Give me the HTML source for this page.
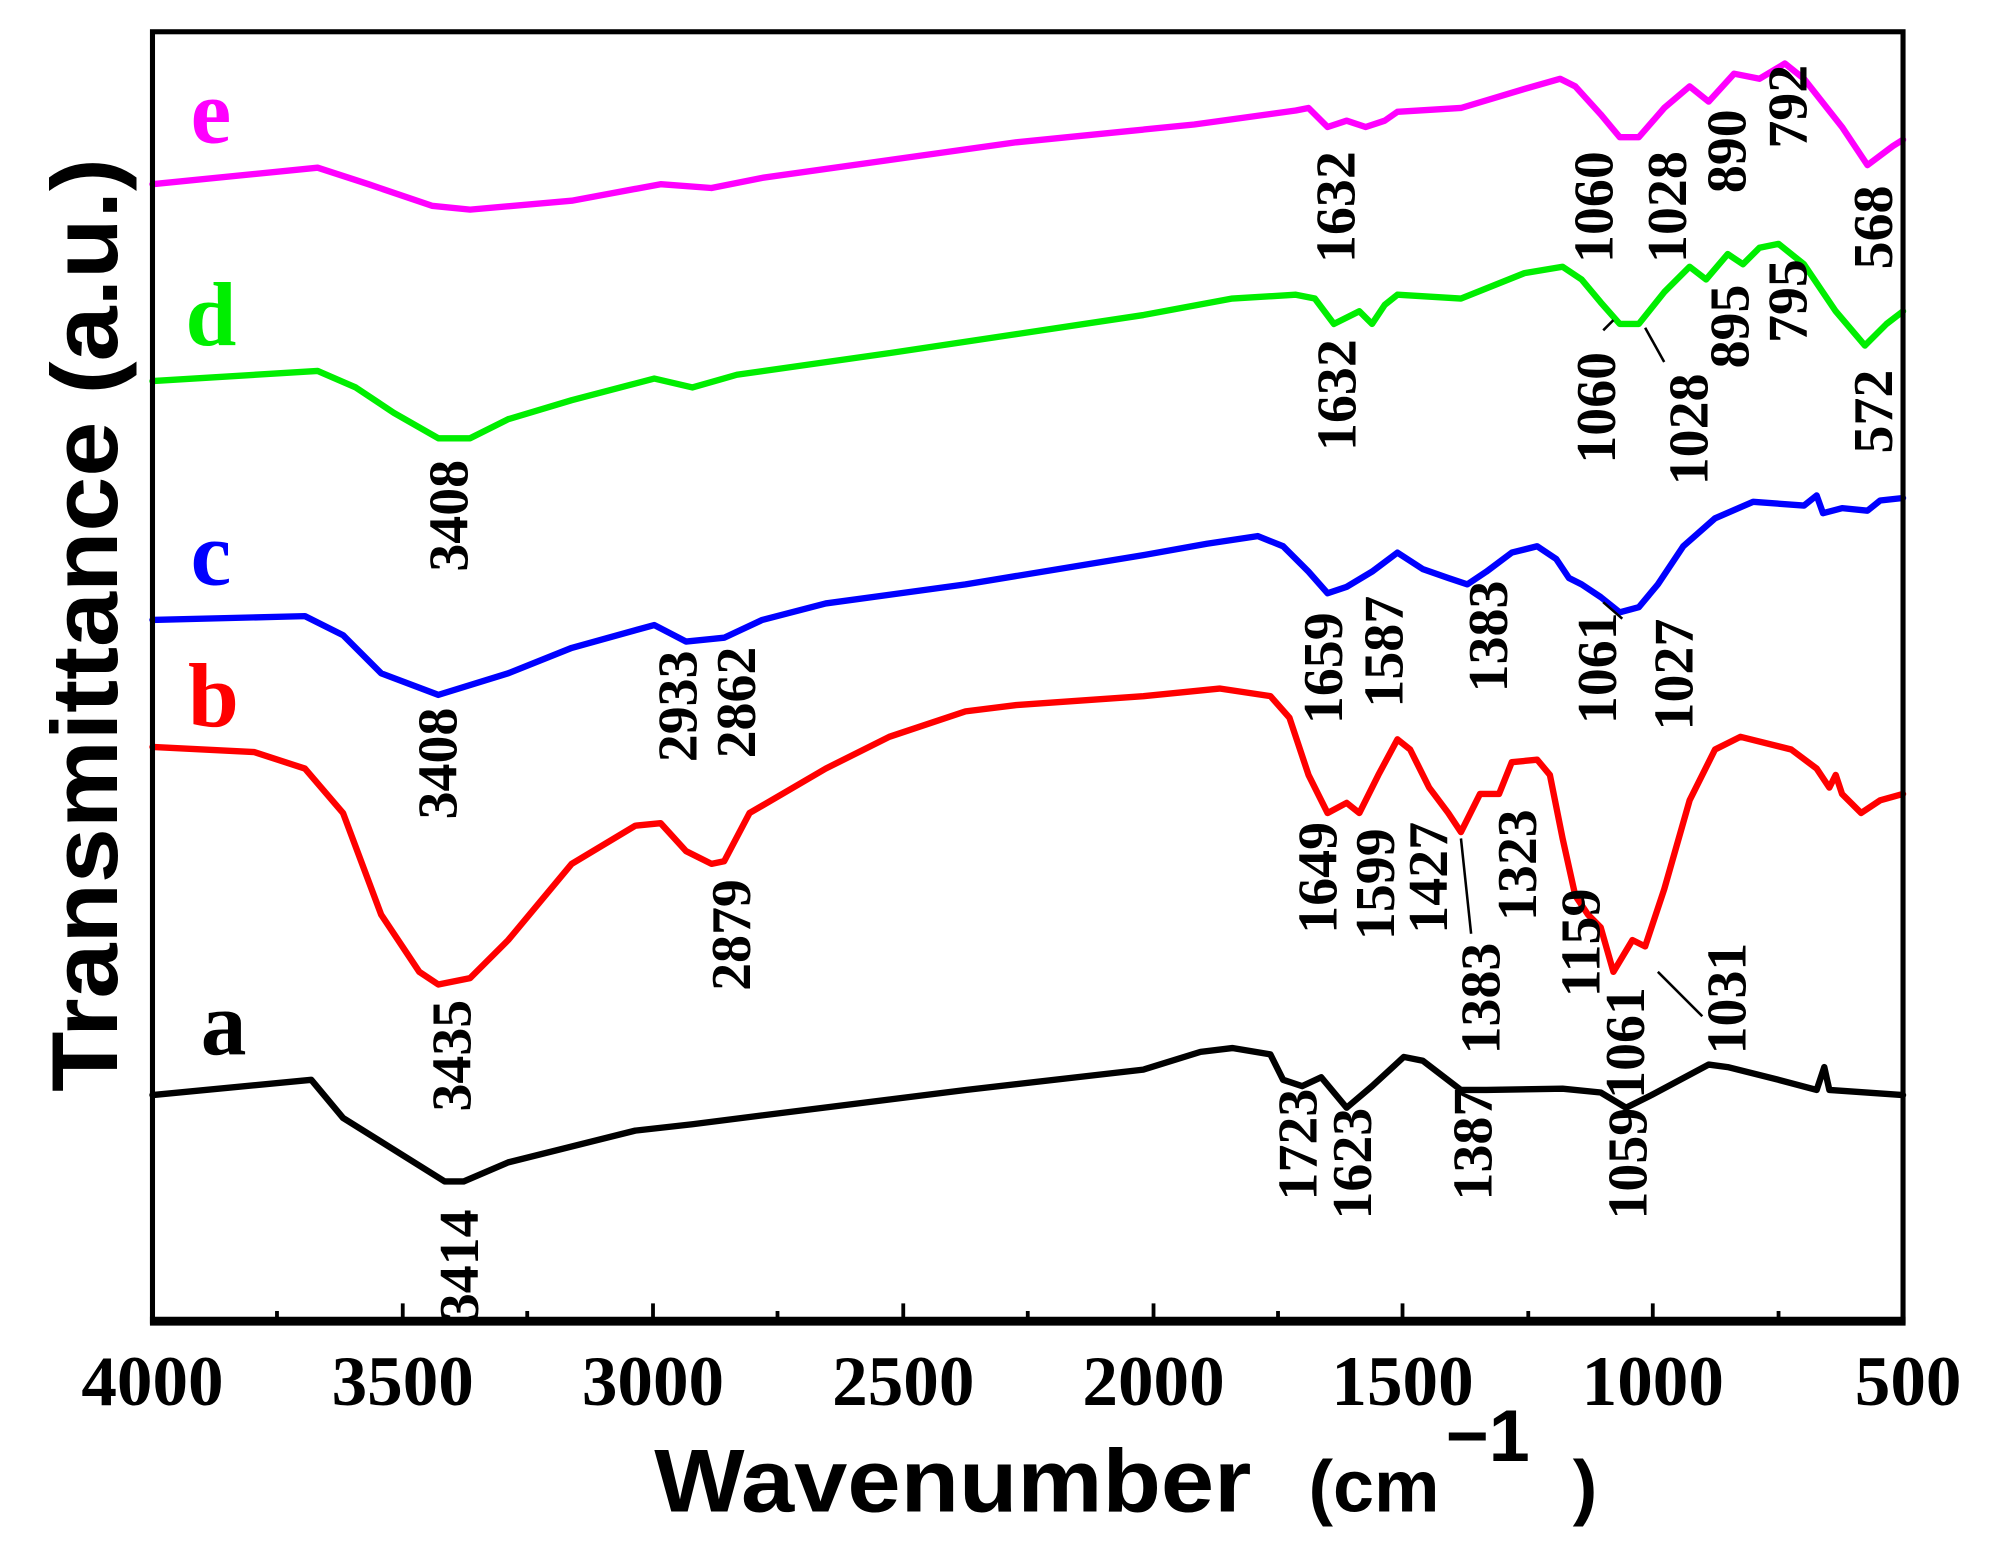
<!DOCTYPE html>
<html><head><meta charset="utf-8"><style>
html,body{margin:0;padding:0;background:#fff;}
svg{display:block;}
.pk{font-family:"Liberation Serif",serif;font-weight:bold;font-size:44px;fill:#000;}
.tk{font-family:"Liberation Serif",serif;font-weight:bold;font-size:56px;fill:#000;}
.lt{font-family:"Liberation Serif",serif;font-weight:bold;font-size:72px;}
.ax{font-family:"Liberation Sans",sans-serif;font-weight:bold;fill:#000;}
</style></head><body>
<svg width="1992" height="1568" viewBox="0 0 1568 1234.3" xmlns="http://www.w3.org/2000/svg">
<g fill="none" stroke-width="5" stroke-linejoin="round" stroke-linecap="round">
<polyline stroke="#ff00ff" points="120,145 250,132 290,145 340,162 370,165 450,158 520,145 560,148 600,140 800,112 940,98 1020,87 1030,85 1045,100 1060,95 1075,100 1090,95 1100,88 1150,85 1200,70 1228,62 1240,68 1260,90 1275,108 1290,108 1310,85 1330,68 1345,80 1365,58 1385,62 1405,50 1420,62 1450,100 1470,130 1490,115 1498,110"/>
<polyline stroke="#00ee00" points="120,300 250,292 280,305 310,325 345,345 370,345 400,330 450,315 515,298 545,305 580,295 700,278 800,263 900,248 970,235 1020,232 1035,235 1050,255 1070,245 1080,255 1090,240 1100,232 1150,235 1200,215 1230,210 1245,220 1260,238 1275,255 1290,255 1310,230 1330,210 1343,220 1360,200 1372,208 1385,195 1400,192 1420,208 1445,245 1468,272 1485,255 1498,245"/>
<polyline stroke="#0000ff" points="120,488 240,485 270,500 300,530 345,547 400,530 450,510 515,492 540,505 570,502 600,488 650,475 760,460 900,437 950,428 990,422 1010,430 1030,450 1045,467 1060,462 1080,450 1100,435 1120,448 1140,455 1155,460 1170,450 1190,435 1210,430 1225,440 1235,455 1245,460 1260,470 1275,482 1290,478 1305,460 1325,430 1350,408 1380,395 1420,398 1430,390 1435,404 1450,400 1470,402 1480,394 1498,392"/>
<polyline stroke="#ff0000" points="120,588 200,592 240,605 270,640 300,720 330,765 345,775 370,770 400,740 450,680 500,650 520,648 540,670 560,680 570,678 590,640 650,605 700,580 760,560 800,555 900,548 960,542 1000,548 1015,565 1030,610 1045,640 1060,632 1070,640 1085,610 1100,582 1110,590 1125,620 1140,640 1150,655 1165,625 1180,625 1190,600 1210,598 1220,610 1230,660 1240,705 1250,720 1260,730 1270,765 1285,740 1295,745 1310,700 1330,630 1350,590 1370,580 1410,590 1430,605 1440,620 1445,610 1450,625 1465,640 1480,630 1498,625"/>
<polyline stroke="#000000" points="120,862 245,850 270,880 350,930 365,930 400,915 500,890 545,885 600,878 760,858 900,842 945,828 970,825 1000,830 1010,850 1025,855 1040,848 1060,872 1080,855 1105,832 1120,835 1150,858 1170,858 1230,857 1260,860 1280,872 1300,862 1345,838 1360,840 1400,850 1430,858 1436,840 1440,858 1498,862"/>
</g>
<g stroke="#000" stroke-width="2">
<line x1="1150" y1="660" x2="1158" y2="735"/><line x1="1305" y1="765" x2="1340" y2="800"/>
<line x1="1262" y1="474" x2="1277" y2="487"/><line x1="1295" y1="258" x2="1310" y2="285"/>
<line x1="1262" y1="260" x2="1270" y2="252"/>
</g>
<rect x="120" y="25" width="1378" height="1015" fill="none" stroke="#000" stroke-width="4"/>
<line x1="118" y1="1040" x2="1500" y2="1040" stroke="#000" stroke-width="7"/>
<g stroke="#000" stroke-width="3">
<line x1="317" y1="1040" x2="317" y2="1026"/><line x1="514" y1="1040" x2="514" y2="1026"/><line x1="711" y1="1040" x2="711" y2="1026"/><line x1="908" y1="1040" x2="908" y2="1026"/><line x1="1104" y1="1040" x2="1104" y2="1026"/><line x1="1301" y1="1040" x2="1301" y2="1026"/>
<line x1="218" y1="1040" x2="218" y2="1032"/><line x1="415" y1="1040" x2="415" y2="1032"/><line x1="612" y1="1040" x2="612" y2="1032"/><line x1="809" y1="1040" x2="809" y2="1032"/><line x1="1006" y1="1040" x2="1006" y2="1032"/><line x1="1203" y1="1040" x2="1203" y2="1032"/><line x1="1400" y1="1040" x2="1400" y2="1032"/>
</g>
<g class="tk" text-anchor="middle">
<text x="120" y="1106">4000</text><text x="317" y="1106">3500</text><text x="514" y="1106">3000</text><text x="711" y="1106">2500</text><text x="908" y="1106">2000</text><text x="1104" y="1106">1500</text><text x="1301" y="1106">1000</text><text x="1502" y="1106">500</text>
</g>
<text class="ax" x="750" y="1190" font-size="70" text-anchor="middle" textLength="470" lengthAdjust="spacingAndGlyphs">Wavenumber</text>
<text class="ax" x="1030" y="1190" font-size="58">(cm</text>
<text class="ax" x="1138" y="1150" font-size="58">−1</text>
<text class="ax" x="1238" y="1190" font-size="58">)</text>
<text class="ax" transform="translate(92,492) rotate(-90)" font-size="74" text-anchor="middle" textLength="735" lengthAdjust="spacingAndGlyphs">Transmittance  (a.u.)</text>
<text class="lt" x="150" y="112" fill="#ff00ff">e</text>
<text class="lt" x="146" y="272" fill="#00ee00">d</text>
<text class="lt" x="150" y="460" fill="#0000ff">c</text>
<text class="lt" x="148" y="572" fill="#ff0000">b</text>
<text class="lt" x="158" y="830" fill="#000">a</text>
<g class="pk" dominant-baseline="central">
<text transform="translate(362,1040) rotate(-90)">3414</text>
<text transform="translate(1022,945) rotate(-90)">1723</text>
<text transform="translate(1065,960) rotate(-90)">1623</text>
<text transform="translate(1160,945) rotate(-90)">1387</text>
<text transform="translate(1282,960) rotate(-90)">1059</text>
<text transform="translate(356,875) rotate(-90)">3435</text>
<text transform="translate(576,780) rotate(-90)">2879</text>
<text transform="translate(1038,735) rotate(-90)">1649</text>
<text transform="translate(1083,740) rotate(-90)">1599</text>
<text transform="translate(1125,735) rotate(-90)">1427</text>
<text transform="translate(1166,830) rotate(-90)">1383</text>
<text transform="translate(1195,725) rotate(-90)">1323</text>
<text transform="translate(1245,785) rotate(-90)">1159</text>
<text transform="translate(1280,865) rotate(-90)">1061</text>
<text transform="translate(1360,830) rotate(-90)">1031</text>
<text transform="translate(345,645) rotate(-90)">3408</text>
<text transform="translate(534,600) rotate(-90)">2933</text>
<text transform="translate(580,597) rotate(-90)">2862</text>
<text transform="translate(1042,570) rotate(-90)">1659</text>
<text transform="translate(1090,557) rotate(-90)">1587</text>
<text transform="translate(1172,545) rotate(-90)">1383</text>
<text transform="translate(1258,570) rotate(-90)">1061</text>
<text transform="translate(1318,575) rotate(-90)">1027</text>
<text transform="translate(354,450) rotate(-90)">3408</text>
<text transform="translate(1053,355) rotate(-90)">1632</text>
<text transform="translate(1257,365) rotate(-90)">1060</text>
<text transform="translate(1330,382) rotate(-90)">1028</text>
<text transform="translate(1362,290) rotate(-90)">895</text>
<text transform="translate(1408,270) rotate(-90)">795</text>
<text transform="translate(1475,357) rotate(-90)">572</text>
<text transform="translate(1052,207) rotate(-90)">1632</text>
<text transform="translate(1255,207) rotate(-90)">1060</text>
<text transform="translate(1313,207) rotate(-90)">1028</text>
<text transform="translate(1360,152) rotate(-90)">890</text>
<text transform="translate(1408,117) rotate(-90)">792</text>
<text transform="translate(1475,212) rotate(-90)">568</text>
</g>
</svg>
</body></html>
